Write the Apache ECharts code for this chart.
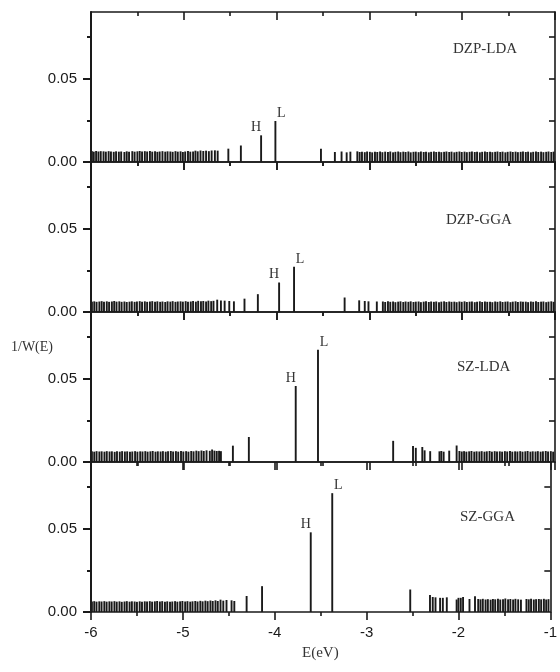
<!DOCTYPE html>
<html>
<head>
<meta charset="utf-8">
<script src="https://cdn.jsdelivr.net/npm/echarts@6/dist/echarts.min.js"></script>
<style>html,body{margin:0;padding:0;background:#fff;}#c{width:560px;height:672px;}</style>
</head>
<body>
<div id="c"></div>
<script>
// ---- data: energies (eV) and 1/W(E) ----
const xTicks = [-6, -5, -4, -3, -2, -1];
const yTickLabels = [0, 0.05];
const panelNames = ['DZP-LDA', 'DZP-GGA', 'SZ-LDA', 'SZ-GGA'];

const dzpLdaSticks = [
[-5.99,.0065],[-5.97,.0062],[-5.945,.0066],[-5.92,.0063],[-5.895,.0065],[-5.865,.0064],[-5.84,.0062],[-5.81,.0065],[-5.785,.0063],[-5.755,.0061],
[-5.73,.0064],[-5.70,.0062],[-5.675,.0063],[-5.64,.0060],[-5.615,.0064],[-5.59,.0062],[-5.555,.0065],[-5.53,.0062],[-5.50,.0064],[-5.475,.0066],
[-5.45,.0063],[-5.42,.0065],[-5.395,.0063],[-5.365,.0066],[-5.34,.0062],[-5.31,.0064],[-5.285,.0061],[-5.26,.0063],[-5.23,.0065],[-5.20,.0062],
[-5.175,.0064],[-5.145,.0063],[-5.12,.0061],[-5.09,.0065],[-5.065,.0062],[-5.035,.0064],[-5.01,.0060],[-4.985,.0063],[-4.955,.0066],[-4.93,.0062],
[-4.90,.0063],[-4.875,.0068],[-4.85,.0064],[-4.82,.0069],[-4.79,.0066],[-4.76,.0068],[-4.73,.0065],[-4.70,.0069],[-4.665,.0070],[-4.635,.0068],
[-4.52,.0080],[-4.385,.0099],
[-3.522,.0080],[-3.372,.0060],[-3.30,.0063],[-3.245,.0058],[-3.205,.0062],
[-3.13,.0064],[-3.105,.0060],[-3.08,.0062],[-3.05,.0059],[-3.025,.0063],[-2.995,.0061],[-2.97,.0058],[-2.94,.0062],[-2.915,.0060],[-2.885,.0063],
[-2.86,.0059],[-2.83,.0062],[-2.80,.0060],[-2.775,.0063],[-2.745,.0058],[-2.72,.0061],[-2.69,.0063],[-2.665,.0059],[-2.635,.0062],[-2.61,.0060],
[-2.58,.0063],[-2.555,.0058],[-2.525,.0061],[-2.50,.0062],[-2.47,.0059],[-2.445,.0063],[-2.415,.0060],[-2.39,.0062],[-2.36,.0058],[-2.335,.0061],
[-2.305,.0063],[-2.28,.0060],[-2.25,.0062],[-2.225,.0059],[-2.195,.0061],[-2.17,.0063],[-2.14,.0060],[-2.115,.0062],[-2.085,.0058],[-2.06,.0061],
[-2.03,.0063],[-2.005,.0060],[-1.975,.0062],[-1.95,.0059],[-1.92,.0061],[-1.895,.0063],[-1.865,.0060],[-1.84,.0062],[-1.81,.0058],[-1.785,.0061],
[-1.755,.0063],[-1.73,.0060],[-1.70,.0062],[-1.675,.0059],[-1.645,.0061],[-1.62,.0063],[-1.59,.0060],[-1.565,.0062],[-1.535,.0058],[-1.51,.0061],
[-1.48,.0063],[-1.455,.0060],[-1.425,.0062],[-1.40,.0059],[-1.37,.0061],[-1.345,.0063],[-1.315,.0060],[-1.29,.0062],[-1.26,.0058],[-1.235,.0061],
[-1.205,.0063],[-1.18,.0060],[-1.15,.0062],[-1.125,.0059],[-1.095,.0061],[-1.07,.0063],[-1.04,.0060],[-1.015,.0062]
];
const dzpLdaHomo = [-4.167, 0.0160];
const dzpLdaLumo = [-4.013, 0.0246];

const dzpGgaSticks = [
[-5.99,.0062],[-5.965,.0064],[-5.94,.0061],[-5.91,.0063],[-5.885,.0065],[-5.86,.0062],[-5.83,.0064],[-5.805,.0061],[-5.775,.0063],[-5.75,.0066],
[-5.725,.0062],[-5.695,.0064],[-5.67,.0061],[-5.64,.0063],[-5.615,.0060],[-5.585,.0062],[-5.56,.0064],[-5.53,.0061],[-5.505,.0063],[-5.475,.0065],
[-5.45,.0062],[-5.42,.0064],[-5.395,.0061],[-5.365,.0063],[-5.34,.0065],[-5.31,.0062],[-5.285,.0064],[-5.255,.0061],[-5.23,.0063],[-5.20,.0060],
[-5.175,.0064],[-5.145,.0062],[-5.12,.0065],[-5.09,.0061],[-5.065,.0063],[-5.035,.0064],[-5.01,.0062],[-4.98,.0065],[-4.955,.0061],[-4.925,.0063],
[-4.90,.0066],[-4.87,.0062],[-4.845,.0067],[-4.815,.0064],[-4.79,.0066],[-4.76,.0063],[-4.735,.0068],[-4.705,.0065],[-4.68,.0067],[-4.64,.0074],
[-4.60,.0069],[-4.56,.0068],[-4.51,.0066],[-4.46,.0064],
[-4.346,.0080],[-4.202,.0107],
[-3.267,.0087],[-3.11,.0070],[-3.05,.0066],[-3.01,.0064],[-2.92,.0063],
[-2.855,.0063],[-2.83,.0060],[-2.80,.0064],[-2.775,.0061],[-2.745,.0063],[-2.72,.0059],[-2.69,.0062],[-2.665,.0064],[-2.635,.0060],[-2.61,.0063],
[-2.58,.0061],[-2.555,.0064],[-2.525,.0060],[-2.50,.0062],[-2.47,.0063],[-2.445,.0059],[-2.415,.0062],[-2.39,.0064],[-2.36,.0060],[-2.335,.0063],
[-2.305,.0061],[-2.28,.0063],[-2.25,.0059],[-2.225,.0062],[-2.195,.0064],[-2.17,.0060],[-2.14,.0063],[-2.115,.0061],[-2.085,.0062],[-2.06,.0059],
[-2.03,.0063],[-2.005,.0061],[-1.975,.0064],[-1.95,.0060],[-1.92,.0062],[-1.895,.0063],[-1.865,.0059],[-1.84,.0062],[-1.81,.0064],[-1.785,.0060],
[-1.755,.0063],[-1.73,.0061],[-1.70,.0062],[-1.675,.0059],[-1.645,.0063],[-1.62,.0061],[-1.59,.0064],[-1.565,.0060],[-1.535,.0062],[-1.51,.0063],
[-1.48,.0059],[-1.455,.0062],[-1.425,.0064],[-1.40,.0060],[-1.37,.0063],[-1.345,.0061],[-1.315,.0062],[-1.29,.0059],[-1.26,.0063],[-1.235,.0061],
[-1.205,.0064],[-1.18,.0060],[-1.15,.0062],[-1.125,.0063],[-1.095,.0059],[-1.07,.0062],[-1.04,.0064],[-1.015,.0061]
];
const dzpGgaHomo = [-3.973, 0.0177];
const dzpGgaLumo = [-3.812, 0.0271];

const szLdaSticks = [
[-5.99,.0064],[-5.965,.0062],[-5.94,.0065],[-5.91,.0063],[-5.885,.0064],[-5.855,.0062],[-5.83,.0065],[-5.80,.0063],[-5.775,.0064],[-5.745,.0061],
[-5.72,.0064],[-5.69,.0062],[-5.665,.0065],[-5.635,.0063],[-5.61,.0064],[-5.58,.0062],[-5.555,.0063],[-5.525,.0065],[-5.50,.0062],[-5.47,.0064],
[-5.445,.0063],[-5.415,.0065],[-5.39,.0062],[-5.36,.0064],[-5.335,.0066],[-5.305,.0062],[-5.28,.0064],[-5.25,.0063],[-5.225,.0065],[-5.195,.0062],
[-5.17,.0064],[-5.14,.0066],[-5.115,.0063],[-5.085,.0065],[-5.06,.0062],[-5.03,.0066],[-5.005,.0063],[-4.975,.0065],[-4.95,.0062],[-4.92,.0066],
[-4.895,.0064],[-4.865,.0068],[-4.84,.0065],[-4.81,.0069],[-4.785,.0066],[-4.755,.0070],[-4.72,.0067],[-4.695,.0075],[-4.67,.0068],[-4.645,.0066],
[-4.62,.0067],[-4.60,.0065],
[-4.471,.0098],[-4.299,.0150],
[-2.744,.0127],
[-2.53,.0096],[-2.50,.0085],[-2.43,.0090],[-2.405,.0070],[-2.345,.0065],[-2.245,.0064],[-2.225,.0066],[-2.20,.0062],[-2.14,.0068],[-2.06,.0099],
[-2.03,.0066],[-2.005,.0063],[-1.98,.0065],[-1.955,.0062],[-1.925,.0064],[-1.90,.0066],[-1.87,.0062],[-1.845,.0064],[-1.815,.0063],[-1.79,.0065],
[-1.76,.0062],[-1.735,.0064],[-1.705,.0066],[-1.68,.0062],[-1.65,.0065],[-1.625,.0063],[-1.595,.0064],[-1.57,.0062],[-1.54,.0065],[-1.515,.0063],
[-1.485,.0066],[-1.46,.0062],[-1.43,.0064],[-1.405,.0063],[-1.375,.0065],[-1.35,.0062],[-1.32,.0064],[-1.295,.0066],[-1.265,.0062],[-1.24,.0064],
[-1.21,.0063],[-1.185,.0065],[-1.155,.0062],[-1.13,.0064],[-1.10,.0066],[-1.075,.0063],[-1.045,.0065],[-1.02,.0062]
];
const szLdaHomo = [-3.794, 0.0456];
const szLdaLumo = [-3.554, 0.0673];

const szGgaSticks = [
[-5.99,.0063],[-5.965,.0065],[-5.94,.0062],[-5.91,.0064],[-5.885,.0063],[-5.855,.0065],[-5.83,.0062],[-5.80,.0064],[-5.775,.0063],[-5.745,.0065],
[-5.72,.0062],[-5.69,.0064],[-5.665,.0061],[-5.635,.0063],[-5.61,.0065],[-5.58,.0062],[-5.555,.0064],[-5.525,.0063],[-5.50,.0061],[-5.47,.0064],
[-5.445,.0062],[-5.415,.0064],[-5.39,.0063],[-5.36,.0065],[-5.335,.0062],[-5.305,.0064],[-5.28,.0066],[-5.25,.0063],[-5.225,.0065],[-5.195,.0062],
[-5.17,.0064],[-5.14,.0061],[-5.115,.0063],[-5.085,.0065],[-5.06,.0062],[-5.03,.0064],[-5.005,.0066],[-4.975,.0063],[-4.95,.0065],[-4.92,.0062],
[-4.895,.0064],[-4.865,.0066],[-4.84,.0063],[-4.81,.0067],[-4.785,.0064],[-4.755,.0068],[-4.73,.0065],[-4.70,.0069],[-4.675,.0066],[-4.645,.0070],
[-4.62,.0066],[-4.59,.0074],[-4.56,.0068],[-4.525,.0072],[-4.47,.0070],[-4.44,.0066],
[-4.306,.0096],[-4.138,.0155],
[-2.525,.0135],
[-2.31,.0102],[-2.28,.0090],[-2.25,.0088],[-2.20,.0085],[-2.17,.0085],[-2.127,.0088],[-2.02,.0075],[-2.00,.0085],[-1.975,.0085],[-1.95,.0090],
[-1.88,.0078],[-1.82,.0095],
[-1.785,.0078],[-1.76,.0076],[-1.735,.0079],[-1.705,.0075],[-1.68,.0077],[-1.65,.0074],[-1.625,.0078],[-1.60,.0076],[-1.57,.0079],[-1.545,.0075],
[-1.515,.0077],[-1.49,.0081],[-1.46,.0076],[-1.435,.0078],[-1.405,.0075],[-1.38,.0079],[-1.35,.0076],[-1.32,.0074],[-1.26,.0078],[-1.235,.0076],
[-1.21,.0079],[-1.18,.0075],[-1.155,.0077],[-1.125,.0078],[-1.10,.0076],[-1.07,.0079],[-1.045,.0075],[-1.02,.0077]
];
const szGgaHomo = [-3.608, 0.0478];
const szGgaLumo = [-3.374, 0.0713];

// ---- layout ----
const panels = [
  { sticks: dzpLdaSticks, homo: dzpLdaHomo, lumo: dzpLdaLumo },
  { sticks: dzpGgaSticks, homo: dzpGgaHomo, lumo: dzpGgaLumo },
  { sticks: szLdaSticks, homo: szLdaHomo, lumo: szLdaLumo },
  { sticks: szGgaSticks, homo: szGgaHomo, lumo: szGgaLumo }
];
const titlePos = [[453, 42], [446, 213], [457, 360], [460, 510]];
const INK = '#1a1a1a';
const SANS = 'Liberation Sans, Arial, sans-serif';
const SERIF = 'Liberation Serif, Times New Roman, serif';

const grids = [], xAxes = [], yAxes = [], series = [], graphics = [];
panels.forEach((p, i) => {
  const last = i === panels.length - 1;
  grids.push({ left: 91, right: 5, top: 12 + 150 * i, height: 150 });
  const lineStyle = { color: INK, width: 1.6 };
  xAxes.push({
    type: 'value', gridIndex: i, position: 'bottom', min: -6, max: -1, interval: 1,
    axisLine: { show: true, onZero: false, lineStyle },
    axisTick: { show: true, inside: false, length: 8, lineStyle },
    minorTick: { show: true, splitNumber: 2, length: 4, lineStyle },
    splitLine: { show: false },
    axisLabel: { show: last, margin: 13, color: INK, fontFamily: SANS, fontSize: 15,
      formatter: v => String(v) }
  });
  xAxes.push({
    type: 'value', gridIndex: i, position: 'top', min: -6, max: -1, interval: 1,
    axisLine: { show: true, onZero: false, lineStyle },
    axisTick: { show: true, inside: true, length: 8, lineStyle },
    minorTick: { show: true, splitNumber: 2, length: 4, lineStyle },
    splitLine: { show: false },
    axisLabel: { show: false }
  });
  yAxes.push({
    type: 'value', gridIndex: i, position: 'left', min: 0, max: 0.09,
    axisLine: { show: true, onZero: false, lineStyle: { color: INK, width: 2 } },
    axisTick: { show: true, inside: false, length: 8, customValues: yTickLabels, lineStyle: { color: INK, width: 2 } },
    splitLine: { show: false },
    axisLabel: { show: true, margin: 14, color: INK, fontFamily: SANS, fontSize: 15,
      customValues: yTickLabels, formatter: v => v.toFixed(2) }
  });
  yAxes.push({
    type: 'value', gridIndex: i, position: 'left', min: 0, max: 0.09,
    axisLine: { show: false, onZero: false },
    axisTick: { show: true, inside: false, length: 4, customValues: [0.025, 0.075], lineStyle: { color: INK, width: 2 } },
    splitLine: { show: false },
    axisLabel: { show: false }
  });
  yAxes.push({
    type: 'value', gridIndex: i, position: 'right', min: 0, max: 0.09,
    axisLine: { show: true, onZero: false, lineStyle: { color: INK, width: 1.6 } },
    axisTick: { show: true, inside: true, length: 6, customValues: [0.025, 0.05, 0.075], lineStyle: { color: INK, width: 1.6 } },
    splitLine: { show: false },
    axisLabel: { show: false }
  });
  const lbl = (txt, dx) => ({ show: true, formatter: txt, position: 'top', distance: 1, offset: [dx, 0],
    color: '#333', fontFamily: SERIF, fontSize: 14 });
  series.push({
    type: 'bar', xAxisIndex: 2 * i, yAxisIndex: 3 * i, barWidth: 1.9,
    itemStyle: { color: INK }, silent: true, animation: false,
    data: p.sticks.map(d => ({ value: d })).concat([
      { value: p.homo, label: lbl('H', -5) },
      { value: p.lumo, label: lbl('L', 6) }
    ])
  });
  graphics.push({ type: 'text', left: titlePos[i][0], top: titlePos[i][1],
    style: { text: panelNames[i], font: '15px ' + SERIF, fill: '#333' } });
});
graphics.push({ type: 'text', left: 11, top: 340, style: { text: '1/W(E)', font: '14px ' + SERIF, fill: '#333' } });
graphics.push({ type: 'text', left: 302, top: 646, style: { text: 'E(eV)', font: '15px ' + SERIF, fill: '#333' } });

const chart = echarts.init(document.getElementById('c'), null, { renderer: 'canvas' });
chart.setOption({
  animation: false,
  backgroundColor: '#fff',
  grid: grids, xAxis: xAxes, yAxis: yAxes, series: series, graphic: graphics
});
</script>
</body>
</html>
